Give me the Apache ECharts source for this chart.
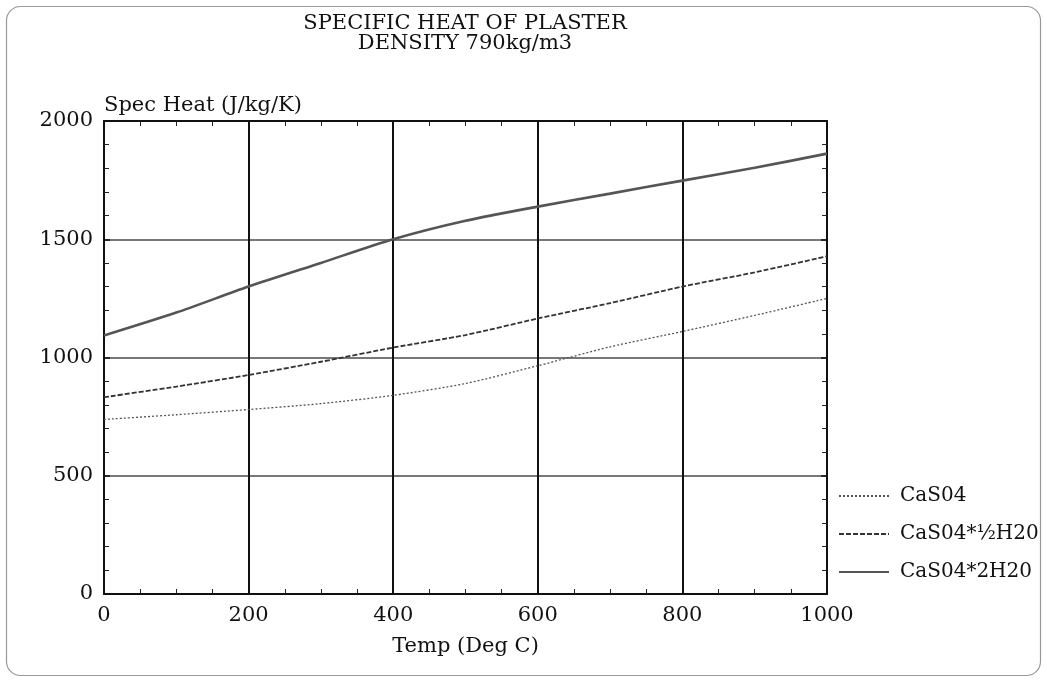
<!DOCTYPE html>
<html>
<head>
<meta charset="utf-8">
<script src="https://cdn.jsdelivr.net/npm/echarts@6/dist/echarts.min.js"></script>
<style>
html,body{margin:0;padding:0;background:#fff;}
#chart{width:1047px;height:681px;}
</style>
</head>
<body>
<div id="chart"></div>
<script>
// ---- data ----
var temps = [0, 100, 200, 300, 400, 500, 600, 700, 800, 900, 1000];
var caso4 = [738, 758, 780, 805, 840, 890, 965, 1045, 1110, 1178, 1250];
var caso4Half = [832, 877, 926, 982, 1042, 1095, 1165, 1230, 1300, 1360, 1428];
var caso4Two = [1093, 1190, 1300, 1400, 1500, 1578, 1638, 1693, 1748, 1802, 1862];
var seriesNames = ['CaS04', 'CaS04*½H20', 'CaS04*2H20'];
var titleLines = ['SPECIFIC HEAT OF PLASTER', 'DENSITY 790kg/m3'];
var xName = 'Temp (Deg C)';
var yName = 'Spec Heat (J/kg/K)';

function pairs(vals) { return temps.map(function (t, i) { return [t, vals[i]]; }); }
function plain(v) { return String(v); }

var FONT = 'DejaVu Serif';
var chart = echarts.init(document.getElementById('chart'));

var baseX = {
  type: 'value', min: 0, max: 1000, interval: 200,
  axisLine: { show: true, onZero: false, lineStyle: { color: '#111', width: 2 } },
  axisTick: { show: true, inside: true, length: 6, lineStyle: { color: '#111', width: 1.5 } },
  minorTick: { show: true, splitNumber: 4, length: 5, lineStyle: { color: '#222', width: 1 } }
};
var baseY = {
  type: 'value', min: 0, max: 2000, interval: 500,
  axisLine: { show: true, onZero: false, lineStyle: { color: '#111', width: 2 } },
  axisTick: { show: true, inside: true, length: 6, lineStyle: { color: '#111', width: 1.5 } },
  minorTick: { show: true, splitNumber: 5, length: 5, lineStyle: { color: '#222', width: 1 } }
};

var option = {
  backgroundColor: '#fff',
  animation: false,
  textStyle: { fontFamily: FONT },
  title: {
    text: titleLines.join('\n'),
    left: 460, top: 9, textAlign: 'center',
    textStyle: { fontFamily: FONT, fontSize: 21, fontWeight: 'normal', color: '#111', lineHeight: 20 }
  },
  legend: {
    orient: 'vertical', left: 833, top: 481,
    itemWidth: 50, itemHeight: 14, itemGap: 18,
    data: seriesNames,
    itemStyle: { opacity: 0 },
    textStyle: { fontFamily: FONT, fontSize: 20, color: '#111', lineHeight: 20, padding: [0, 0, 0, 6] }
  },
  grid: { left: 104, right: 220, top: 121, bottom: 87, containLabel: false },
  xAxis: [
    Object.assign({}, baseX, {
      position: 'bottom',
      name: xName, nameLocation: 'middle', nameGap: 42,
      nameTextStyle: { fontFamily: FONT, fontSize: 21, color: '#111' },
      axisLabel: { show: true, margin: 11, fontFamily: FONT, fontSize: 21, color: '#111', formatter: plain },
      splitLine: { show: true, lineStyle: { color: '#111', width: 2 } }
    }),
    Object.assign({}, baseX, {
      position: 'top',
      axisLabel: { show: false },
      splitLine: { show: false }
    })
  ],
  yAxis: [
    Object.assign({}, baseY, {
      position: 'left',
      name: yName, nameLocation: 'end', nameGap: 5,
      nameTextStyle: { fontFamily: FONT, fontSize: 21, color: '#111', align: 'left', verticalAlign: 'bottom' },
      axisLabel: { show: true, margin: 11, fontFamily: FONT, fontSize: 21, color: '#111', formatter: plain },
      splitLine: { show: true, lineStyle: { color: '#777', width: 2 } }
    }),
    Object.assign({}, baseY, {
      position: 'right',
      axisLabel: { show: false },
      splitLine: { show: false }
    })
  ],
  series: [
    {
      name: seriesNames[0], type: 'line', data: pairs(caso4), smooth: 0.25,
      symbol: 'none', xAxisIndex: 0, yAxisIndex: 0,
      lineStyle: { color: '#555', width: 1.3, type: [2, 2] }, itemStyle: { color: '#555' }
    },
    {
      name: seriesNames[1], type: 'line', data: pairs(caso4Half), smooth: 0.25,
      symbol: 'none', xAxisIndex: 0, yAxisIndex: 0,
      lineStyle: { color: '#333', width: 1.8, type: [5, 2] }, itemStyle: { color: '#333' }
    },
    {
      name: seriesNames[2], type: 'line', data: pairs(caso4Two), smooth: 0.25,
      symbol: 'none', xAxisIndex: 0, yAxisIndex: 0,
      lineStyle: { color: '#555', width: 2.6, type: 'solid' }, itemStyle: { color: '#555' }
    }
  ],
  graphic: [
    {
      type: 'rect', silent: true, z: -1,
      shape: { x: 6.5, y: 6.5, width: 1034, height: 669, r: 14 },
      style: { fill: 'none', stroke: '#999', lineWidth: 1.2 }
    }
  ]
};
chart.setOption(option);
</script>
</body>
</html>
